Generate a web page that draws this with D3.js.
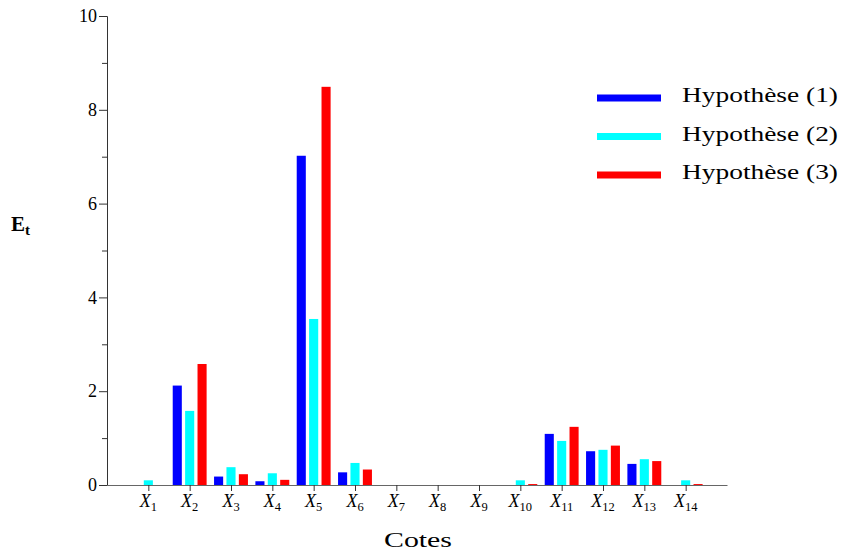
<!DOCTYPE html>
<html>
<head>
<meta charset="utf-8">
<script src="https://cdn.jsdelivr.net/npm/d3@7"></script>
<style>
  html, body { margin: 0; padding: 0; background: #fff; }
  svg { display: block; }
  text { font-family: "Liberation Serif", "Times New Roman", serif; fill: #000; }
</style>
</head>
<body>
<svg id="chart" width="847" height="558"></svg>
<script>
const categories = ["1","2","3","4","5","6","7","8","9","10","11","12","13","14"];
const hyp1 = [0, 2.12, 0.18, 0.08, 7.02, 0.27, 0, 0, 0, 0, 1.09, 0.72, 0.45, 0];
const hyp2 = [0.1, 1.58, 0.38, 0.25, 3.54, 0.47, 0, 0, 0, 0.1, 0.94, 0.75, 0.55, 0.1];
const hyp3 = [0, 2.58, 0.23, 0.11, 8.49, 0.33, 0, 0, 0, 0.02, 1.24, 0.84, 0.51, 0.02];
const seriesNames = ["Hypothèse (1)", "Hypothèse (2)", "Hypothèse (3)"];
const seriesColors = ["#0000ff", "#00ffff", "#ff0000"];
const yTicks = [0, 2, 4, 6, 8, 10];
const yMinorTicks = [1, 3, 5, 7, 9];

const svg = d3.select("#chart");
const x = d3.scaleLinear().domain([0, 15]).range([107, 727]);
const y = d3.scaleLinear().domain([0, 10]).range([485, 16]);

const series = [hyp1, hyp2, hyp3];
const offsets = [-0.3, 0, 0.3];
const barW = 0.22;

series.forEach((vals, s) => {
  svg.append("g").selectAll("rect")
    .data(vals.map((v, i) => ({v, i})))
    .join("rect")
    .attr("x", d => x(d.i + 1 + offsets[s] - barW / 2))
    .attr("width", x(barW) - x(0))
    .attr("y", d => y(d.v))
    .attr("height", d => y(0) - y(d.v))
    .attr("fill", seriesColors[s]);
});

// Y axis
const yAxis = svg.append("g").attr("transform", "translate(107,0)")
  .call(d3.axisLeft(y).tickValues(yTicks).tickSize(8).tickPadding(2).tickFormat(d3.format("d")));
yAxis.attr("font-family", null);
yAxis.select(".domain").attr("stroke", "#333").attr("stroke-width", 1);
yAxis.selectAll(".tick line").attr("stroke", "#333");
yAxis.selectAll(".tick text").style("font-size", "18px").style("font-family", "Liberation Serif, serif").attr("fill", "#000");
const yMinor = svg.append("g").attr("transform", "translate(107,0)")
  .call(d3.axisLeft(y).tickValues(yMinorTicks).tickSize(5).tickFormat(""));
yMinor.select(".domain").remove();
yMinor.selectAll(".tick line").attr("stroke", "#333");

// X axis
const xAxis = svg.append("g").attr("transform", "translate(0,485)")
  .call(d3.axisBottom(x).tickValues(d3.range(1, 15)).tickSize(6).tickSizeOuter(0).tickFormat(""));
xAxis.select(".domain").attr("stroke", "#666").attr("stroke-width", 1.2);
xAxis.selectAll(".tick line").attr("stroke", "#333");

const xl = svg.append("g").selectAll("text")
  .data(categories)
  .join("text")
  .attr("x", (d, i) => x(i + 1))
  .attr("y", 507)
  .attr("text-anchor", "middle")
  .style("font-size", "18px");
xl.append("tspan").style("font-style", "italic").text("X");
xl.append("tspan").attr("dy", 4).style("font-size", "12.5px").text(d => d);

// Axis titles
svg.append("text").attr("x", 418).attr("y", 547).attr("text-anchor", "middle")
  .style("font-size", "22px").attr("textLength", 68).attr("lengthAdjust", "spacingAndGlyphs").text("Cotes");
const et = svg.append("text").attr("x", 11).attr("y", 231).style("font-size", "21px").style("font-weight", "bold");
et.append("tspan").text("E");
et.append("tspan").attr("dy", 4).style("font-size", "15px").text("t");

// Legend
const leg = svg.append("g");
seriesNames.forEach((name, i) => {
  const ly = 98 + i * 38.5;
  leg.append("line").attr("x1", 597).attr("x2", 661).attr("y1", ly).attr("y2", ly)
    .attr("stroke", seriesColors[i]).attr("stroke-width", 7);
  leg.append("text").attr("x", 682).attr("y", ly + 4).style("font-size", "22px")
    .attr("textLength", 156).attr("lengthAdjust", "spacingAndGlyphs").text(name);
});
</script>
</body>
</html>
